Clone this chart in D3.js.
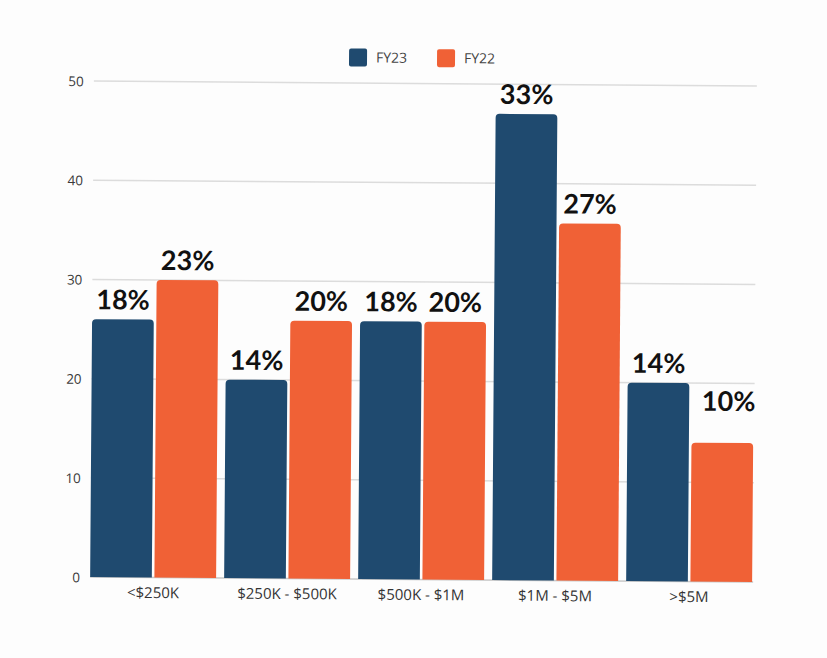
<!DOCTYPE html>
<html><head><meta charset="utf-8">
<script src="https://cdn.jsdelivr.net/npm/d3@7/dist/d3.min.js"></script>
<style>
html,body{margin:0;padding:0;background:#fdfdfd;}
svg{display:block;}
</style></head>
<body>
<svg id="chart" width="827" height="658"></svg>
<script>
const categories = ["<$250K", "$250K - $500K", "$500K - $1M", "$1M - $5M", ">$5M"];
const seriesNames = ["FY23", "FY22"];
const fy23 = [26, 20, 26, 47, 20];
const fy22 = [30, 26, 26, 36, 14];
const fy23Labels = ["18%", "14%", "18%", "33%", "14%"];
const fy22Labels = ["23%", "20%", "20%", "27%", "10%"];
const yTicks = [0, 10, 20, 30, 40, 50];
const colors = {FY23: "#1f4a6f", FY22: "#f06136"};

const svg = d3.select("#chart");
const root = svg.append("g").attr("transform", "rotate(0.43 420 330)");

const x0 = d3.scaleBand().domain(categories).range([92, 754]).paddingInner(0.06).paddingOuter(0);
const x1 = d3.scaleBand().domain(seriesNames).range([0, x0.bandwidth()]).paddingInner(0.04);
const y = d3.scaleLinear().domain([0, 50]).range([579.5, 83.5]);

// gridlines
root.append("g").selectAll("line").data(yTicks).join("line")
  .attr("x1", 92).attr("x2", 755)
  .attr("y1", d => y(d)).attr("y2", d => y(d))
  .attr("stroke", d => d === 0 ? "#c8c8c8" : "#dcdcdc").attr("stroke-width", 1.5);

// y axis labels
const yAxis = d3.axisLeft(y).tickValues(yTicks).tickSize(0).tickPadding(0);
const ya = root.append("g").attr("transform", "translate(82,0)").call(yAxis);
ya.select(".domain").remove();
ya.selectAll("text").attr("font-family", "'Open Sans', sans-serif").attr("font-size", 13.5)
  .attr("fill", "#3a3a3a").attr("dy", "0.35em");

// bars
const data = categories.map((c, i) => ({
  cat: c,
  vals: [
    {s: "FY23", v: fy23[i], l: fy23Labels[i], i},
    {s: "FY22", v: fy22[i], l: fy22Labels[i], i}
  ]
}));

function topRounded(x, yTop, w, yBot, r) {
  return `M${x},${yBot}V${yTop + r}Q${x},${yTop} ${x + r},${yTop}H${x + w - r}Q${x + w},${yTop} ${x + w},${yTop + r}V${yBot}Z`;
}

const groups = root.append("g").selectAll("g").data(data).join("g")
  .attr("transform", d => `translate(${x0(d.cat)},0)`);

groups.selectAll("path").data(d => d.vals).join("path")
  .attr("d", d => topRounded(x1(d.s), y(d.v), x1.bandwidth(), y(0), 4))
  .attr("fill", d => colors[d.s]);

// the last FY22 label sits higher in the original (avoids the neighbour label)
const isLast = d => d.s === "FY22" && d.i === categories.length - 1;
groups.selectAll("text.val").data(d => d.vals).join("text")
  .attr("class", "val")
  .attr("x", d => x1(d.s) + x1.bandwidth() / 2 + (isLast(d) ? 6 : 0))
  .attr("y", d => y(d.v) - 10 - (isLast(d) ? 22 : 0))
  .attr("text-anchor", "middle")
  .attr("font-family", "Lato, 'Noto Sans', sans-serif")
  .attr("font-weight", 700)
  .attr("font-size", 27)
  .attr("fill", "#111")
  .text(d => d.l);

// x axis labels
const xAxis = d3.axisBottom(x0).tickSize(0).tickPadding(0);
const xa = root.append("g").attr("transform", `translate(0,${y(0) + 13})`).call(xAxis);
xa.select(".domain").remove();
xa.selectAll("text").attr("font-family", "'Open Sans', sans-serif").attr("font-size", 15)
  .attr("fill", "#333").attr("dy", "0.5em");

// legend
const legendX = [347, 435];
const lg = root.append("g").selectAll("g").data(seriesNames).join("g")
  .attr("transform", (d, i) => `translate(${legendX[i]},49)`);
lg.append("rect").attr("width", 18).attr("height", 18).attr("rx", 2).attr("fill", d => colors[d]);
lg.append("text").attr("x", 27).attr("y", 9).attr("dy", "0.35em")
  .attr("font-family", "'Open Sans', sans-serif").attr("font-size", 14).attr("fill", "#444")
  .text(d => d);
</script>
</body></html>
